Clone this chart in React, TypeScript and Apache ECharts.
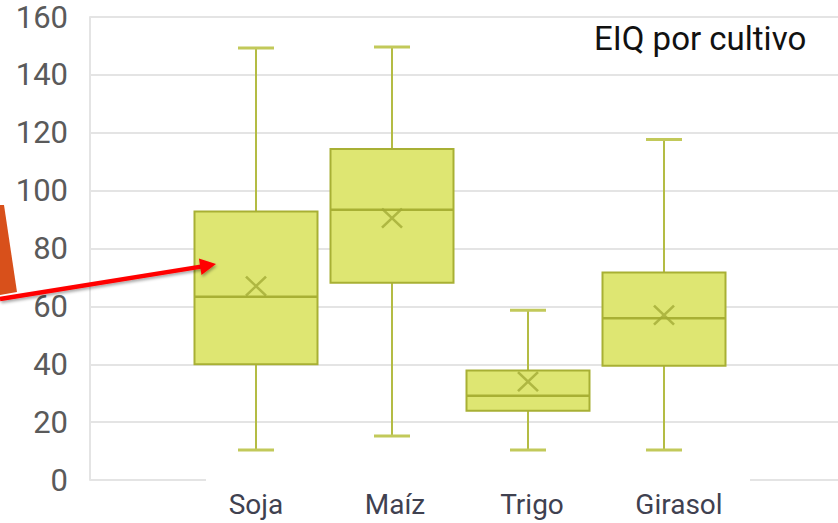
import React, { useEffect, useRef } from "react";
import * as echarts from "echarts";

const categories = ["Soja", "Maíz", "Trigo", "Girasol"];
const mins = [10.4, 15.2, 10.4, 10.4];
const q1s = [40, 68.2, 23.9, 39.5];
const medians = [63.3, 93.4, 29.1, 55.9];
const q3s = [92.8, 114.4, 37.8, 71.7];
const maxs = [149.3, 149.6, 58.7, 117.7];
const means = [67, 90.5, 34, 57];
const yTicks = [0, 20, 40, 60, 80, 100, 120, 140, 160];

const FONT = "Roboto, 'Noto Sans', sans-serif";

export default function App() {
  const ref = useRef<HTMLDivElement>(null);
  useEffect(() => {
    if (!ref.current) return;
    const chart = echarts.init(ref.current, null, { renderer: "svg" });
    const boxData = categories.map((c, i) => [i, mins[i], q1s[i], medians[i], q3s[i], maxs[i]]);
    const meanData = categories.map((c, i) => [i, means[i]]);
    const yMin = yTicks[0];
    const yMax = yTicks[yTicks.length - 1];
    const gridColor = "#e4e4e4";
    const labelStyle = { fontFamily: FONT, fontSize: 28, color: "#3f4150" };
    chart.setOption({
      animation: false,
      backgroundColor: "#ffffff",
      title: {
        text: "EIQ por cultivo",
        left: 594,
        top: 22,
        padding: 0,
        textStyle: { fontFamily: FONT, fontSize: 33, fontWeight: "normal", color: "#111111" },
      },
      grid: [
        { left: 90, right: 0, top: 17, bottom: 43 },
        { left: 188, width: 544, top: 17, bottom: 43 },
      ],
      xAxis: [
        { type: "category", gridIndex: 0, data: [""], show: false },
        {
          type: "category",
          gridIndex: 1,
          data: categories,
          axisLine: { show: false },
          axisTick: { show: false },
          splitLine: { show: false },
          axisLabel: {
            ...labelStyle,
            margin: 10,
            interval: 0,
            hideOverlap: false,
            formatter: (v: string, i: number) => `{s${i}|${v}}`,
            rich: {
              s0: { ...labelStyle },
              s1: { ...labelStyle, padding: [0, 0, 0, 6] },
              s2: { ...labelStyle, padding: [0, 0, 0, 8] },
              s3: { ...labelStyle, padding: [0, 0, 0, 30] },
            },
          },
        },
      ],
      yAxis: [
        {
          type: "value",
          gridIndex: 0,
          min: yMin,
          max: yMax,
          interval: 20,
          axisLine: { show: true, lineStyle: { color: gridColor, width: 2 } },
          axisTick: { show: false },
          axisLabel: { fontFamily: FONT, fontSize: 31, color: "#5a5a5a", margin: 22 },
          splitLine: {
            show: true,
            lineStyle: {
              color: ["rgba(0,0,0,0)", gridColor, gridColor, gridColor, gridColor, gridColor, gridColor, gridColor, gridColor],
              width: 2,
            },
          },
        },
        { type: "value", gridIndex: 1, min: yMin, max: yMax, show: false, splitLine: { show: false } },
      ],
      series: [
        {
          type: "custom",
          xAxisIndex: 1,
          yAxisIndex: 1,
          data: boxData,
          encode: { x: 0, y: [1, 2, 3, 4, 5] },
          z: 3,
          renderItem: (params: any, api: any) => {
            const i = api.value(0);
            const pMin = api.coord([i, api.value(1)]);
            const pQ1 = api.coord([i, api.value(2)]);
            const pMed = api.coord([i, api.value(3)]);
            const pQ3 = api.coord([i, api.value(4)]);
            const pMax = api.coord([i, api.value(5)]);
            const band = api.size([1, 0])[0];
            const bw = (band * 123) / 136;
            const cx = pMed[0];
            const capW = 36;
            const whisk = { stroke: "#b4bc44", lineWidth: 2 };
            const cap = { stroke: "#c2c95a", lineWidth: 3 };
            return {
              type: "group",
              children: [
                { type: "line", shape: { x1: cx, y1: pMax[1], x2: cx, y2: pQ3[1] }, style: whisk },
                { type: "line", shape: { x1: cx, y1: pQ1[1], x2: cx, y2: pMin[1] }, style: whisk },
                { type: "line", shape: { x1: cx - capW / 2, y1: pMax[1], x2: cx + capW / 2, y2: pMax[1] }, style: cap },
                { type: "line", shape: { x1: cx - capW / 2, y1: pMin[1], x2: cx + capW / 2, y2: pMin[1] }, style: cap },
                {
                  type: "rect",
                  shape: { x: cx - bw / 2, y: pQ3[1], width: bw, height: pQ1[1] - pQ3[1] },
                  style: { fill: "#dee672", stroke: "#a8b034", lineWidth: 2 },
                },
                {
                  type: "line",
                  shape: { x1: cx - bw / 2, y1: pMed[1], x2: cx + bw / 2, y2: pMed[1] },
                  style: { stroke: "#a8b034", lineWidth: 2.5 },
                },
              ],
            };
          },
        },
        {
          type: "scatter",
          xAxisIndex: 1,
          yAxisIndex: 1,
          data: meanData,
          z: 4,
          symbol: "path://M0,0L10,10M10,0L0,10",
          symbolSize: [20, 19],
          itemStyle: { color: "rgba(0,0,0,0)", borderColor: "#a3ab36", borderWidth: 2.5 },
        },
      ],
      graphic: [
        { type: "line", shape: { x1: 90, y1: 480, x2: 206, y2: 480 }, style: { stroke: gridColor, lineWidth: 2 } },
        { type: "line", shape: { x1: 750, y1: 480, x2: 838, y2: 480 }, style: { stroke: gridColor, lineWidth: 2 } },
        {
          type: "polygon",
          z: 50,
          shape: { points: [[0, 205], [4, 205], [17, 292], [0, 295]] },
          style: { fill: "#d8501b" },
        },
        {
          type: "line",
          z: 60,
          shape: { x1: 0, y1: 299, x2: 201, y2: 266.6 },
          style: { stroke: "#ff0000", lineWidth: 4.5, shadowBlur: 3, shadowColor: "rgba(0,0,0,0.35)", shadowOffsetX: 1, shadowOffsetY: 2 },
        },
        {
          type: "polygon",
          z: 60,
          shape: { points: [[216, 264], [201.5, 275], [198.9, 258.4]] },
          style: { fill: "#ff0000", shadowBlur: 3, shadowColor: "rgba(0,0,0,0.35)", shadowOffsetX: 1, shadowOffsetY: 2 },
        },
      ],
    });
    return () => chart.dispose();
  }, []);
  return <div ref={ref} style={{ position: "fixed", left: 0, top: 0, width: 838, height: 523 }} />;
}
